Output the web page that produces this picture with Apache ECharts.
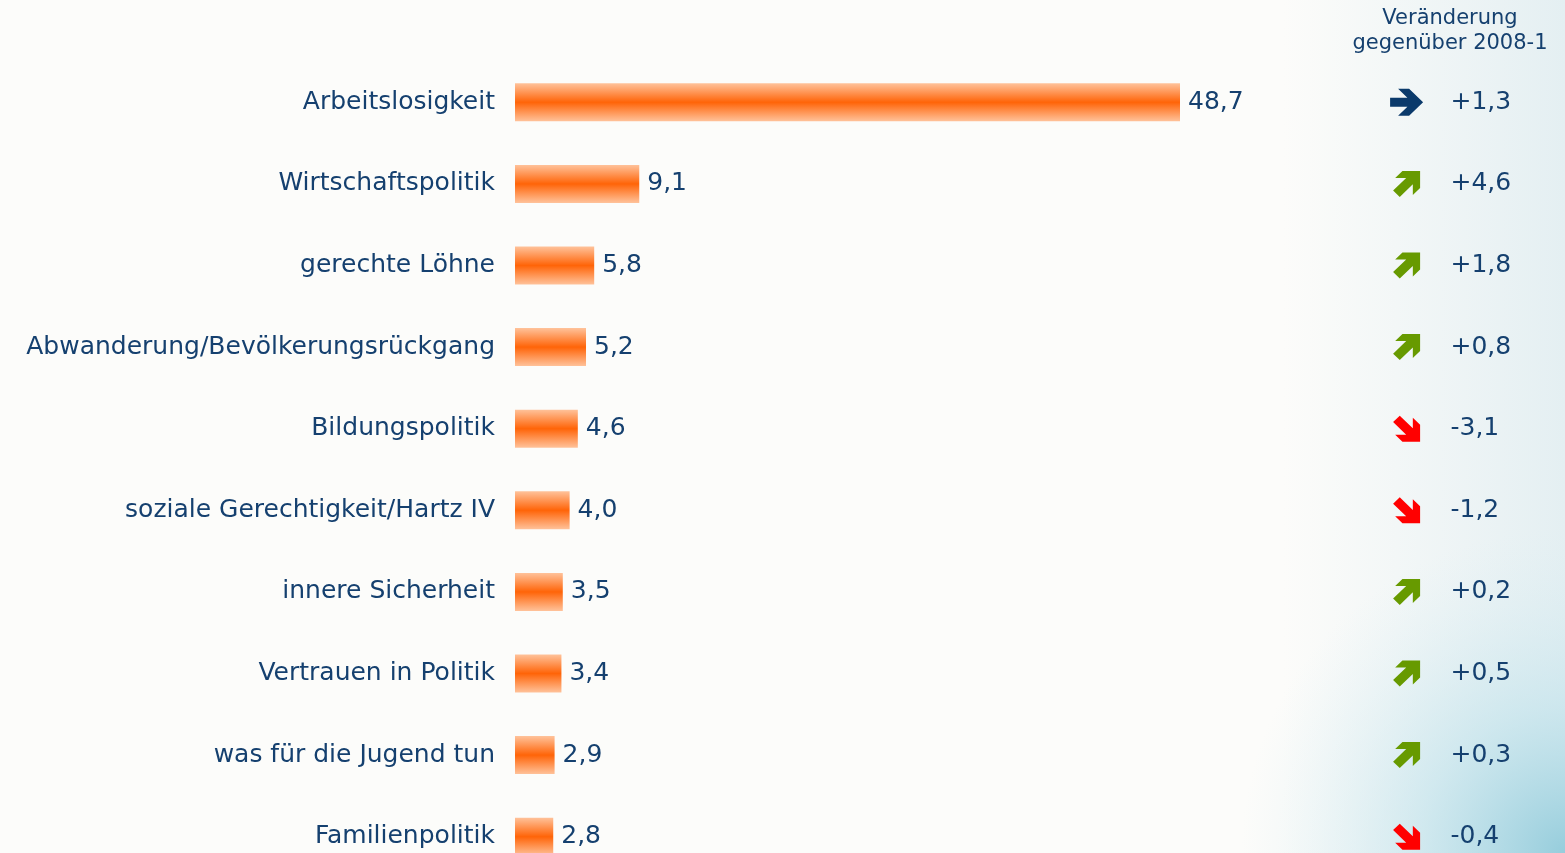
<!DOCTYPE html>
<html><head><meta charset="utf-8">
<script src="https://cdn.jsdelivr.net/npm/echarts@6/dist/echarts.min.js"></script>
<style>html,body{margin:0;padding:0;background:#fcfcfa;overflow:hidden}#c{width:1565px;height:880px}</style>
</head><body><div id="c"></div>
<script>
const categories = ['Arbeitslosigkeit','Wirtschaftspolitik','gerechte Löhne','Abwanderung/Bevölkerungsrückgang','Bildungspolitik','soziale Gerechtigkeit/Hartz IV','innere Sicherheit','Vertrauen in Politik','was für die Jugend tun','Familienpolitik'];
const values = [48.7,9.1,5.8,5.2,4.6,4.0,3.5,3.4,2.9,2.8];
const changes = [1.3,4.6,1.8,0.8,-3.1,-1.2,0.2,0.5,0.3,-0.4];
const trends = ['flat','up','up','up','down','down','up','up','up','down'];
const headerText = 'Veränderung\ngegenüber 2008-1';

const navy = '#15406f';
const fmt = v => v.toFixed(1).replace('.', ',');
const fmtSigned = v => (v > 0 ? '+' : '') + fmt(v);
const trendStyle = {
  flat: {color: '#0b3a6b', size: [33, 27],
    path: 'path://M0,9 L17.3,9 L8,0 L19,0 L33,13.5 L19,27 L8,27 L17.3,18 L0,18 Z'},
  up: {color: '#679a00', size: [27, 26],
    path: 'path://M0,19.6 L12.6,7 L2,7 L9,0 L26,0 L26,17 L19,24 L19,13.4 L6.4,26 Z'},
  down: {color: '#ff0000', size: [27, 26],
    path: 'path://M0,6.4 L12.6,19 L2,19 L9,26 L26,26 L26,9 L19,2 L19,12.6 L6.4,0 Z'}
};

const chart = echarts.init(document.getElementById('c'));
const font = 'DejaVu Sans';
chart.setOption({
  backgroundColor: '#fcfcfa',
  animation: false,
  graphic: [
    {type: 'rect', z: -10, silent: true, shape: {x: 0, y: 0, width: 1565, height: 853},
     style: {fill: {type: 'linear', x: 0, y: 0, x2: 1, y2: 0, colorStops: [
       {offset: 0, color: 'rgba(230,240,243,0)'}, {offset: 0.82, color: 'rgba(230,240,243,0)'}, {offset: 1, color: 'rgba(228,239,242,1)'}]}}},
    {type: 'rect', z: -9, silent: true, shape: {x: 0, y: 0, width: 1565, height: 853},
     style: {fill: {type: 'radial', x: 1, y: 1, r: 0.38, colorStops: [
       {offset: 0, color: 'rgba(150,205,220,1)'}, {offset: 0.45, color: 'rgba(192,226,235,0.65)'}, {offset: 1, color: 'rgba(220,238,243,0)'}]}}},
    {type: 'text', left: 1350, top: 6, style: {text: headerText, width: 200, fill: navy, font: '21px "DejaVu Sans"', x: 100, lineHeight: 25, textAlign: 'center'}}
  ],
  grid: [
    {left: 515, top: 61.5, width: 665 * 50 / 48.7, height: 816},
    {left: 1380, top: 61.5, width: 70, height: 816}
  ],
  xAxis: [
    {gridIndex: 0, type: 'value', min: 0, max: 50, show: false},
    {gridIndex: 1, type: 'value', min: 0, max: 1, show: false}
  ],
  yAxis: [
    {gridIndex: 0, type: 'category', data: categories, inverse: true,
     axisLine: {show: false}, axisTick: {show: false}, splitLine: {show: false},
     axisLabel: {color: navy, fontSize: 25, fontFamily: font, margin: 20}},
    {gridIndex: 1, type: 'category', data: categories, inverse: true, show: false}
  ],
  series: [
    {type: 'bar', xAxisIndex: 0, yAxisIndex: 0, data: values, barWidth: 38,
     itemStyle: {color: {type: 'linear', x: 0, y: 0, x2: 0, y2: 1, colorStops: [
       {offset: 0, color: '#ffc29a'}, {offset: 0.5, color: '#ff6408'}, {offset: 1, color: '#ffc29a'}]}},
     label: {show: true, position: 'right', distance: 8, color: navy, fontSize: 25, fontFamily: font,
       formatter: p => fmt(p.value)}},
    {type: 'scatter', xAxisIndex: 1, yAxisIndex: 1,
     data: trends.map((t, i) => ({value: [0.38, i],
       symbol: trendStyle[t].path, symbolSize: trendStyle[t].size,
       itemStyle: {color: trendStyle[t].color, opacity: 1}}))},
    {type: 'scatter', xAxisIndex: 1, yAxisIndex: 1, symbolSize: 1, itemStyle: {color: 'rgba(0,0,0,0)', opacity: 1},
     data: changes.map((c, i) => [1, i]),
     label: {show: true, position: 'right', distance: 0, color: navy, fontSize: 25, fontFamily: font, opacity: 1,
       formatter: p => fmtSigned(changes[p.dataIndex])}}
  ]
});
</script></body></html>
